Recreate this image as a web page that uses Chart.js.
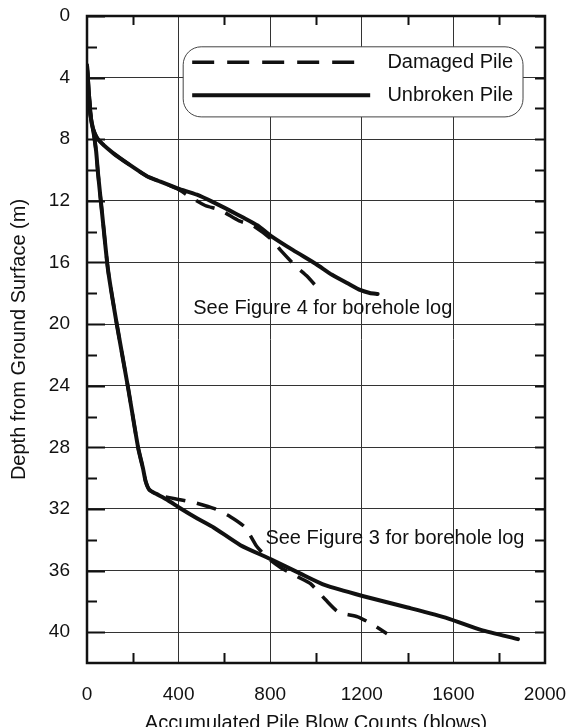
<!DOCTYPE html>
<html>
<head>
<meta charset="utf-8">
<script src="https://cdn.jsdelivr.net/npm/chart.js@4/dist/chart.umd.min.js"></script>
<style>
    html, body { margin: 0; padding: 0; background: #fff; }
    #wrap { width: 568px; height: 727px; }
</style>
</head>
<body>
<div id="wrap"><canvas id="pileChart"></canvas></div>
<script>
// --- DATA ---
const blowTicks = [0, 400, 800, 1200, 1600, 2000];
const depthTicks = [0, 4, 8, 12, 16, 20, 24, 28, 32, 36, 40];
const blowMinorTicks = [200, 600, 1000, 1400, 1800];
const depthMinorTicks = [2, 6, 10, 14, 18, 22, 26, 30, 34, 38];

const seriesNames = ['Damaged Pile', 'Unbroken Pile'];
const noteTexts = ['See Figure 4 for borehole log', 'See Figure 3 for borehole log'];

// pile with Figure 4 borehole (shallow)
const fig4UnbrokenBlows = [0, 8, 16, 26, 48, 114, 190, 262, 320, 398, 480, 553, 620, 684, 745, 801, 900, 1000, 1070, 1138, 1195, 1235, 1269];
const fig4UnbrokenDepth = [3.2, 5.0, 6.5, 7.3, 8.0, 8.9, 9.7, 10.4, 10.75, 11.2, 11.6, 12.1, 12.6, 13.1, 13.6, 14.25, 15.2, 16.1, 16.8, 17.35, 17.8, 17.98, 18.05];
const fig4DamagedBlows = [0, 8, 16, 26, 48, 114, 190, 262, 320, 398, 440, 516, 582, 665, 724, 801, 845, 915, 958, 1028];
const fig4DamagedDepth = [3.2, 5.0, 6.5, 7.3, 8.0, 8.9, 9.7, 10.4, 10.75, 11.25, 11.65, 12.3, 12.6, 13.3, 13.6, 14.45, 15.2, 16.3, 16.85, 18.0];

// pile with Figure 3 borehole (deep)
const fig3UnbrokenBlows = [0, 8, 16, 28, 40, 48, 70, 92, 130, 179, 223, 245, 256, 272, 300, 350, 407, 480, 553, 670, 801, 932, 1040, 1203, 1400, 1575, 1720, 1882];
const fig3UnbrokenDepth = [3.2, 5.0, 6.5, 7.5, 8.8, 10.2, 13.4, 16.5, 20.0, 24.1, 28.0, 29.4, 30.2, 30.75, 31.0, 31.4, 31.95, 32.6, 33.2, 34.35, 35.25, 36.2, 36.95, 37.65, 38.4, 39.1, 39.85, 40.45];
const fig3DamagedBlows = [0, 8, 16, 28, 40, 48, 70, 92, 130, 179, 223, 245, 256, 272, 310, 407, 473, 560, 626, 691, 740, 790, 845, 919, 976, 1042, 1098, 1182, 1247, 1310];
const fig3DamagedDepth = [3.2, 5.0, 6.5, 7.5, 8.8, 10.2, 13.4, 16.5, 20.0, 24.1, 28.0, 29.4, 30.2, 30.75, 31.1, 31.4, 31.6, 32.0, 32.5, 33.2, 34.4, 35.2, 35.8, 36.4, 36.85, 37.9, 38.7, 39.0, 39.5, 40.1];

function zip(xs, ys) { return xs.map((x, i) => ({ x: x, y: ys[i] })); }

const FONT = "'Liberation Sans', Arial, sans-serif";
const INK = '#111';

function lineSet(label, xs, ys, dashed) {
    return {
        label: label,
        data: zip(xs, ys),
        showLine: true,
        borderColor: INK,
        borderWidth: dashed ? 3.5 : 4,
        borderDash: dashed ? [20, 12] : [],
        borderCapStyle: dashed ? 'butt' : 'round',
        pointRadius: 0,
        tension: 0.2,
        fill: false
    };
}

// --- EXTRA DRAWING: frame, minor ticks, legend box, notes ---
const decorations = {
    id: 'decorations',
    afterDatasetsDraw(chart) {
        const ctx = chart.ctx;
        const a = chart.chartArea;
        const xs = chart.scales.x, ys = chart.scales.y;
        ctx.save();
        ctx.strokeStyle = INK;

        // tick stubs on the frame
        ctx.lineWidth = 2;
        ctx.beginPath();
        depthTicks.concat(depthMinorTicks).forEach(v => {
            const py = Math.round(ys.getPixelForValue(v)) + 0.5;
            const len = depthTicks.includes(v) ? 18 : 10;
            ctx.moveTo(a.left, py); ctx.lineTo(a.left + len, py);
            ctx.moveTo(a.right, py); ctx.lineTo(a.right - 10, py);
        });
        blowMinorTicks.forEach(v => {
            const px = Math.round(xs.getPixelForValue(v)) + 0.5;
            ctx.moveTo(px, a.bottom); ctx.lineTo(px, a.bottom - 10);
            ctx.moveTo(px, a.top); ctx.lineTo(px, a.top + 9);
        });
        ctx.stroke();

        // frame
        ctx.lineWidth = 2.5;
        ctx.strokeRect(a.left, a.top, a.right - a.left, a.bottom - a.top);

        // legend box
        const bx1 = xs.getPixelForValue(420), bx2 = xs.getPixelForValue(1904);
        const by1 = ys.getPixelForValue(2.0), by2 = ys.getPixelForValue(6.55);
        ctx.beginPath();
        ctx.roundRect(bx1, by1, bx2 - bx1, by2 - by1, 18);
        ctx.fillStyle = '#fff';
        ctx.fill();
        ctx.lineWidth = 1;
        ctx.strokeStyle = '#444';
        ctx.stroke();

        const rowY = [ys.getPixelForValue(3.0), ys.getPixelForValue(5.15)];
        ctx.strokeStyle = INK;
        ctx.lineWidth = 3.5;
        ctx.setLineDash([22, 13]);
        ctx.beginPath(); ctx.moveTo(bx1 + 9, rowY[0]); ctx.lineTo(bx1 + 180, rowY[0]); ctx.stroke();
        ctx.setLineDash([]);
        ctx.lineWidth = 4;
        ctx.beginPath(); ctx.moveTo(bx1 + 9, rowY[1]); ctx.lineTo(bx1 + 187, rowY[1]); ctx.stroke();

        ctx.fillStyle = INK;
        ctx.font = '20px ' + FONT;
        ctx.textAlign = 'right';
        ctx.textBaseline = 'middle';
        seriesNames.forEach((name, i) => ctx.fillText(name, bx2 - 10, rowY[i]));

        // notes
        ctx.textAlign = 'left';
        ctx.fillText(noteTexts[0], xs.getPixelForValue(464), ys.getPixelForValue(19.0));
        ctx.fillText(noteTexts[1], xs.getPixelForValue(779), ys.getPixelForValue(33.9));
        ctx.restore();
    }
};

new Chart(document.getElementById('pileChart'), {
    type: 'scatter',
    data: {
        datasets: [
            lineSet(seriesNames[0], fig4DamagedBlows, fig4DamagedDepth, true),
            lineSet(seriesNames[1], fig4UnbrokenBlows, fig4UnbrokenDepth, false),
            lineSet(seriesNames[0], fig3DamagedBlows, fig3DamagedDepth, true),
            lineSet(seriesNames[1], fig3UnbrokenBlows, fig3UnbrokenDepth, false)
        ]
    },
    options: {
        responsive: true,
        maintainAspectRatio: false,
        animation: false,
        layout: { padding: { top: 16, right: 23, left: 0, bottom: 0 } },
        plugins: { legend: { display: false }, tooltip: { enabled: false } },
        scales: {
            x: {
                type: 'linear', min: 0, max: 2000,
                afterBuildTicks: s => { s.ticks = blowTicks.map(v => ({ value: v })); },
                afterFit: s => { s.height = 64; s.paddingLeft = 0; s.paddingRight = 0; },
                grid: { color: '#333', lineWidth: 1, drawTicks: false },
                border: { display: false },
                ticks: { color: INK, padding: 20, maxRotation: 0, font: { family: FONT, size: 19 }, callback: v => String(v) },
                title: {
                    display: true, text: 'Accumulated Pile Blow Counts (blows)', color: INK,
                    font: { family: FONT, size: 20, lineHeight: 1 }, padding: { top: 0, bottom: -6 }
                }
            },
            y: {
                type: 'linear', min: 0, max: 42, reverse: true,
                afterBuildTicks: s => { s.ticks = depthTicks.map(v => ({ value: v })); },
                afterFit: s => { s.width = 87; s.paddingTop = 0; s.paddingBottom = 0; },
                grid: { color: '#333', lineWidth: 1, drawTicks: false },
                border: { display: false },
                ticks: { color: INK, padding: 17, font: { family: FONT, size: 19 }, callback: v => String(v) },
                title: {
                    display: true, text: 'Depth from Ground Surface (m)', color: INK,
                    font: { family: FONT, size: 20, lineHeight: 1.2 }, padding: { top: 7, bottom: 0 }
                }
            }
        }
    },
    plugins: [decorations]
});
</script>
</body>
</html>
